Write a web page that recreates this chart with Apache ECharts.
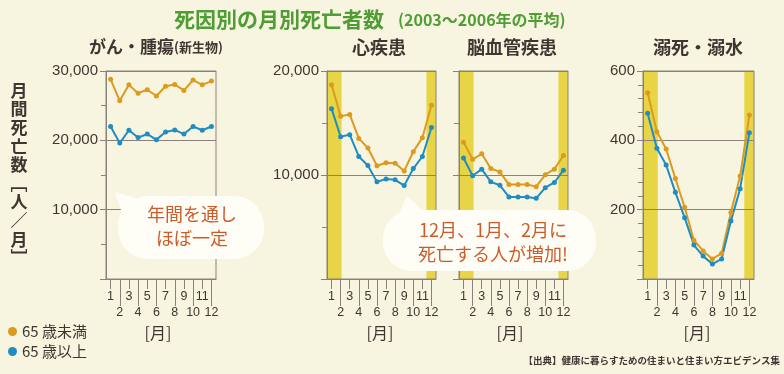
<!DOCTYPE html>
<html><head><meta charset="utf-8">
<script src="https://cdn.jsdelivr.net/npm/echarts@6/dist/echarts.min.js"></script>
<style>html,body{margin:0;padding:0;background:#f7f5e0;}#c{width:784px;height:374px;}</style>
</head><body><div id="c"></div>
<script>
const months = ['1','2','3','4','5','6','7','8','9','10','11','12'];
const seriesNames = ['65 歳未満', '65 歳以上'];
const panelTitles = ['がん・腫瘍', '心疾患', '脳血管疾患', '溺死・溺水'];
const cancerUnder65 = [28800,25700,28000,26800,27300,26400,27800,28050,27200,28700,28000,28550];
const cancerOver65  = [22000,19600,21450,20400,20900,20100,21200,21500,20900,22000,21450,22000];
const heartUnder65  = [18680,15660,15820,13520,12600,10890,11180,11120,10390,12240,13590,16710];
const heartOver65   = [16380,13680,13880,11780,10920,9340,9610,9540,8980,10620,11780,14570];
const strokeUnder65 = [13160,11510,12040,10620,10300,9080,9080,9080,8880,10030,10560,11880];
const strokeOver65  = [11640,9930,10560,9340,9010,7890,7890,7890,7760,8780,9280,10460];
const drownUnder65  = [537,425,375,290,207,112,81,58,74,192,297,473];
const drownOver65   = [478,377,329,250,177,98,66,43,58,167,260,422];
const yMax = [30000, 20000, 20000, 600];
const yInterval = [10000, 10000, 10000, 200];
// winter months highlighted (Dec, Jan, Feb)
const winterBands = [[0.5, 2.1], [11.45, 12.5]];

const COL_O = '#dc9a1e', COL_B = '#1f8dc3', YEL = '#e8d545', AX = '#8a817c', TXT = '#3f3632';
const NUMF = "'Liberation Sans', Arial, sans-serif";
const JPF = "'Noto Sans CJK JP', sans-serif";
const gridPos = [{left:106,width:110},{left:327,width:109},{left:459,width:109},{left:643,width:111}];
const minorSplit = [2,2,2,5];
const showYLabel = [true,true,false,true];
const panelData = [[cancerUnder65,cancerOver65],[heartUnder65,heartOver65],[strokeUnder65,strokeOver65],[drownUnder65,drownOver65]];

const grid = [], xAxis = [], yAxis = [], series = [];
gridPos.forEach((g, i) => {
  grid.push({left:g.left, width:g.width, top:71, height:208, show:true, borderColor:AX, borderWidth:1, backgroundColor:'transparent', z:2});
  const catBase = {type:'category', data:months, gridIndex:i, position:'bottom', boundaryGap:true, z:2};
  xAxis.push(Object.assign({}, catBase, {
    axisLine:{show:true, lineStyle:{color:AX, width:1}},
    axisTick:{show:true, alignWithLabel:true, interval:(k)=>k%2===0, length:10, lineStyle:{color:AX}},
    axisLabel:{interval:(k)=>k%2===0, margin:11, fontSize:12.5, color:TXT, fontFamily:NUMF}
  }));
  xAxis.push(Object.assign({}, catBase, {
    axisLine:{show:false},
    axisTick:{show:true, alignWithLabel:true, interval:(k)=>k%2===1, length:27, lineStyle:{color:AX}},
    axisLabel:{interval:(k)=>k%2===1, margin:27, fontSize:12.5, color:TXT, fontFamily:NUMF}
  }));
  xAxis.push({type:'value', gridIndex:i, min:0.5, max:12.5, show:false});
  yAxis.push({
    type:'value', gridIndex:i, min:0, max:yMax[i], interval:yInterval[i], z:2,
    axisLine:{show:true, lineStyle:{color:AX}},
    axisTick:{show:true, length:6, lineStyle:{color:AX}},
    minorTick:{show:true, splitNumber:minorSplit[i], length:5, lineStyle:{color:AX}},
    splitLine:{show:true, lineStyle:{color:AX, width:1}},
    axisLabel:{show:showYLabel[i], showMinLabel:false, margin:8, fontSize:15, color:TXT, fontFamily:NUMF,
      formatter:(v)=>v.toLocaleString('en-US')}
  });
  if (i > 0) {
    series.push({type:'line', xAxisIndex:3*i+2, yAxisIndex:i, data:[], silent:true, z:1,
      markArea:{silent:true, itemStyle:{color:YEL, opacity:1},
        data: winterBands.map(b => [{xAxis:b[0]}, {xAxis:b[1]}])}});
  }
  panelData[i].forEach((arr, s) => {
    series.push({
      name: seriesNames[s], type:'line', xAxisIndex:3*i+2, yAxisIndex:i, z:4,
      data: arr.map((v, k) => [k + 1, v]),
      symbol:'circle', symbolSize:5, showSymbol:true,
      lineStyle:{width:2, color: s===0?COL_O:COL_B},
      itemStyle:{color: s===0?COL_O:COL_B},
      emphasis:{disabled:true}, animation:false
    });
  });
});

const titleStyle = {fill:TXT, font:"bold 18px "+JPF, textAlign:'center', textVerticalAlign:'middle'};
const graphic = [
  {type:'text', x:174, y:19, style:{text:'死因別の月別死亡者数', fill:'#4f9d34', font:"bold 21px "+JPF, textVerticalAlign:'middle'}},
  {type:'text', x:398, y:20, style:{text:'(2003～2006年の平均)', fill:'#4f9d34', font:"bold 16px "+JPF, textVerticalAlign:'middle'}},
  {type:'text', x:89, y:47, style:{text:'{a|がん・腫瘍}{b|(新生物)}', textVerticalAlign:'middle',
     rich:{a:{fill:TXT, font:"bold 17px "+JPF}, b:{fill:TXT, font:"bold 13px "+JPF}}}},
  {type:'text', x:379, y:47, style:Object.assign({text:panelTitles[1]}, titleStyle)},
  {type:'text', x:512, y:47, style:Object.assign({text:panelTitles[2]}, titleStyle)},
  {type:'text', x:698, y:47, style:Object.assign({text:panelTitles[3]}, titleStyle)},
  {type:'text', x:19, y:81, style:{text:'月\n間\n死\n亡\n数\n﹇\n人\n／\n月\n﹈', fill:TXT, font:"bold 17px "+JPF, textAlign:'center', lineHeight:18.6}},
  ...[158, 380, 510, 697].map(x => ({type:'text', x:x, y:333, style:{text:'[月]', fill:TXT, font:"16px "+JPF, textAlign:'center', textVerticalAlign:'middle'}})),
  // bubble 1
  {type:'polygon', z:10, shape:{points:[[123,216],[115,192],[142,200]]}, style:{fill:'#fffef6'}},
  {type:'rect', z:10, shape:{x:118, y:196, width:146, height:63, r:30}, style:{fill:'#fffef6'}},
  {type:'text', z:11, x:192, y:226, style:{text:'年間を通し\nほぼ一定', fill:'#cc5a2b', font:"18px "+JPF, textAlign:'center', textVerticalAlign:'middle', lineHeight:24}},
  // bubble 2
  {type:'polygon', z:10, shape:{points:[[398,216],[407,196],[424,212]]}, style:{fill:'#fffef6'}},
  {type:'rect', z:10, shape:{x:383, y:210, width:213, height:61, r:29}, style:{fill:'#fffef6'}},
  {type:'text', z:11, x:493, y:242, style:{text:'12月、1月、2月に\n死亡する人が増加!', fill:'#cc5a2b', font:"18px "+JPF, textAlign:'center', textVerticalAlign:'middle', lineHeight:24}},
  {type:'text', right:4, top:356, style:{text:'【出典】健康に暮らすための住まいと住まい方エビデンス集', fill:TXT, font:"bold 9.5px "+JPF}}
];

const chart = echarts.init(document.getElementById('c'), null, {renderer:'canvas'});
chart.setOption({
  backgroundColor:'#f7f5e0',
  animation:false,
  grid, xAxis, yAxis, series, graphic,
  legend:{data:seriesNames, orient:'vertical', left:3, top:319, itemGap:5, itemWidth:9, itemHeight:9, icon:'circle',
    textStyle:{fontSize:15, color:TXT, fontFamily:JPF}, selectedMode:false}
});
</script></body></html>
